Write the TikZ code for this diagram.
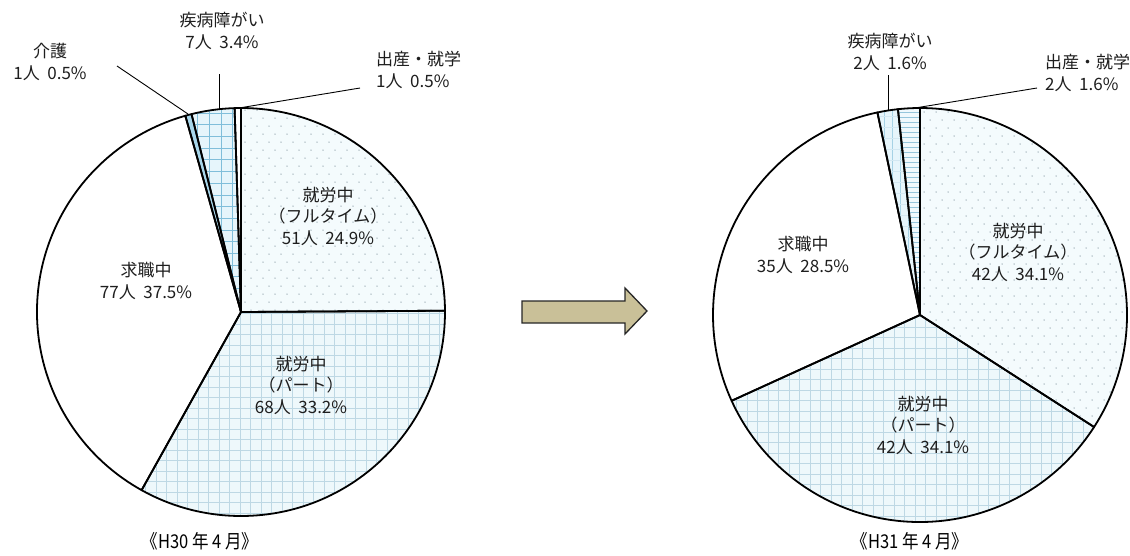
\documentclass[tikz,border=0pt]{standalone}
\usepackage{fontspec}
\setmainfont{Noto Sans CJK JP}
\definecolor{fullbg}{RGB}{244,251,253}
\definecolor{dotc}{RGB}{160,176,184}
\definecolor{partbg}{RGB}{238,248,251}
\definecolor{partgrid}{RGB}{190,216,228}
\definecolor{sickbg}{RGB}{230,245,251}
\definecolor{sickgrid}{RGB}{128,190,218}
\definecolor{carefill}{RGB}{168,214,234}
\definecolor{hlines}{RGB}{150,198,220}
\definecolor{arrowfill}{RGB}{201,192,152}
\definecolor{txt}{RGB}{30,30,30}
\newcommand{\slicepath}[5]{(#1,#2) -- ++(#4:#3) arc[start angle=#4,end angle=#5,radius=#3] -- cycle}
\tikzset{
  slice/.style={draw=black,line width=1.8pt,line join=round},
  leader/.style={draw=black,line width=0.9pt},
  lbl/.style={font=\fontsize{17}{21.5}\selectfont,align=center,inner sep=0pt,text=txt},
  lbll/.style={font=\fontsize{17}{21.5}\selectfont,align=left,inner sep=0pt,text=txt,anchor=west},
  captxt/.style={font=\fontsize{19}{20}\selectfont,inner sep=0pt,text=black},
}
\begin{document}
\begin{tikzpicture}[x=1pt,y=-1pt]
\useasboundingbox (0,0) rectangle (1130,555);

% ================= LEFT PIE (centre 241,312; r 204) =================
\begin{scope}
\clip \slicepath{241}{312}{204}{-90}{-0.36};
\fill[fullbg] (230,100) rectangle (450,320);
\foreach \j in {0,...,27}{\foreach \i in {0,...,18}{
  \fill[dotc] ({245+12*\i+6*mod(\j,2)},{110+8*\j}) circle[radius=0.75];}}
\end{scope}
\begin{scope}
\clip \slicepath{241}{312}{204}{-0.36}{119.16};
\fill[partbg] (30,300) rectangle (450,520);
\foreach \x in {30,40.5,...,450}{\draw[partgrid,line width=0.6pt] (\x,300) -- (\x,520);}
\foreach \y in {303,313.5,...,520}{\draw[partgrid,line width=0.6pt] (30,\y) -- (450,\y);}
\end{scope}
\begin{scope}
\clip \slicepath{241}{312}{204}{255.96}{268.2};
\fill[sickbg] (180,100) rectangle (245,320);
\foreach \x in {186,197.7,...,245}{\draw[sickgrid,line width=0.7pt] (\x,100) -- (\x,320);}
\foreach \y in {113,124.7,...,320}{\draw[sickgrid,line width=0.7pt] (180,\y) -- (245,\y);}
\end{scope}
\fill[carefill] \slicepath{241}{312}{204}{254.16}{255.96};
\draw[slice] \slicepath{241}{312}{204}{-90}{-0.36};
\draw[slice] \slicepath{241}{312}{204}{-0.36}{119.16};
\draw[slice] \slicepath{241}{312}{204}{119.16}{254.16};
\draw[slice] \slicepath{241}{312}{204}{254.16}{255.96};
\draw[slice] \slicepath{241}{312}{204}{255.96}{268.2};
\draw[slice] \slicepath{241}{312}{204}{268.2}{270};

\node[lbl] (lfull) at (328,216) {就労中\\（フルタイム）\\51人\ \ 24.9\%};
\node[lbl] (lpart) at (301,385) {就労中\\（パート）\\68人\ \ 33.2\%};
\node[lbl] (ljob) at (146,281) {求職中\\77人\ \ 37.5\%};
\node[lbl] (lcare) at (50,62) {介護\\1人\ \ 0.5\%};
\node[lbl] (lsick) at (222,31) {疾病障がい\\7人\ \ 3.4\%};
\node[lbll] (lbirth) at (376,70) {出産・就学\\1人\ \ 0.5\%};
\coordinate (lcareA) at (117,66);
\coordinate (lcareB) at (188,114);
\coordinate (lsickA) at (219,74);
\coordinate (lsickB) at (219,109);
\coordinate (lbirthA) at (360,88);
\coordinate (lbirthB) at (239,108);
\draw[leader] (lcareA) -- (lcareB);
\draw[leader] (lsickA) -- (lsickB);
\draw[leader] (lbirthA) -- (lbirthB);

% ================= RIGHT PIE (centre 920,315; r 207) =================
\begin{scope}
\clip \slicepath{920}{315}{207}{-90}{32.76};
\fill[fullbg] (910,100) rectangle (1130,440);
\foreach \j in {0,...,41}{\foreach \i in {0,...,18}{
  \fill[dotc] ({924+12*\i+6*mod(\j,2)},{112+8*\j}) circle[radius=0.75];}}
\end{scope}
\begin{scope}
\clip \slicepath{920}{315}{207}{32.76}{155.52};
\fill[partbg] (700,300) rectangle (1130,525);
\foreach \x in {705,715.5,...,1130}{\draw[partgrid,line width=0.6pt] (\x,300) -- (\x,525);}
\foreach \y in {306,316.5,...,525}{\draw[partgrid,line width=0.6pt] (700,\y) -- (1130,\y);}
\end{scope}
\begin{scope}
\clip \slicepath{920}{315}{207}{258.12}{263.88};
\fill[sickbg] (870,100) rectangle (925,320);
\foreach \x in {884,892,...,925}{\draw[sickgrid!70,line width=0.6pt] (\x,100) -- (\x,320);}
\foreach \y in {116,127,...,320}{\draw[sickgrid!35,line width=0.5pt] (870,\y) -- (925,\y);}
\end{scope}
\begin{scope}
\clip \slicepath{920}{315}{207}{263.88}{270};
\fill[sickbg!60] (895,100) rectangle (925,320);
\foreach \y in {112,117,...,320}{\draw[hlines,line width=0.6pt] (895,\y) -- (925,\y);}
\end{scope}
\draw[slice] \slicepath{920}{315}{207}{-90}{32.76};
\draw[slice] \slicepath{920}{315}{207}{32.76}{155.52};
\draw[slice] \slicepath{920}{315}{207}{155.52}{258.12};
\draw[slice] \slicepath{920}{315}{207}{258.12}{263.88};
\draw[slice] \slicepath{920}{315}{207}{263.88}{270};

\node[lbl] (rfull) at (1018,252) {就労中\\（フルタイム）\\42人\ \ 34.1\%};
\node[lbl] (rpart) at (923,425) {就労中\\（パート）\\42人\ \ 34.1\%};
\node[lbl] (rjob) at (803,255) {求職中\\35人\ \ 28.5\%};
\node[lbl] (rsick) at (890,52) {疾病障がい\\2人\ \ 1.6\%};
\node[lbll] (rbirth) at (1045,73) {出産・就学\\2人\ \ 1.6\%};
\coordinate (rsickA) at (888,75);
\coordinate (rsickB) at (888,110);
\coordinate (rbirthA) at (1037,88);
\coordinate (rbirthB) at (915,108);
\draw[leader] (rsickA) -- (rsickB);
\draw[leader] (rbirthA) -- (rbirthB);

% ================= ARROW =================
\draw[fill=arrowfill,draw=black!85,line width=1.3pt,line join=miter]
  (522,301) -- (625,301) -- (625,288) -- (647,311) -- (625,334) -- (625,323) -- (522,323) -- cycle;

% ================= CAPTIONS =================
\node[captxt] (capL) at (200,541) {\scalebox{0.87}[1]{《H30 年 4 月》}};
\node[captxt] (capR) at (910,541) {\scalebox{0.87}[1]{《H31 年 4 月》}};
\end{tikzpicture}
\end{document}
